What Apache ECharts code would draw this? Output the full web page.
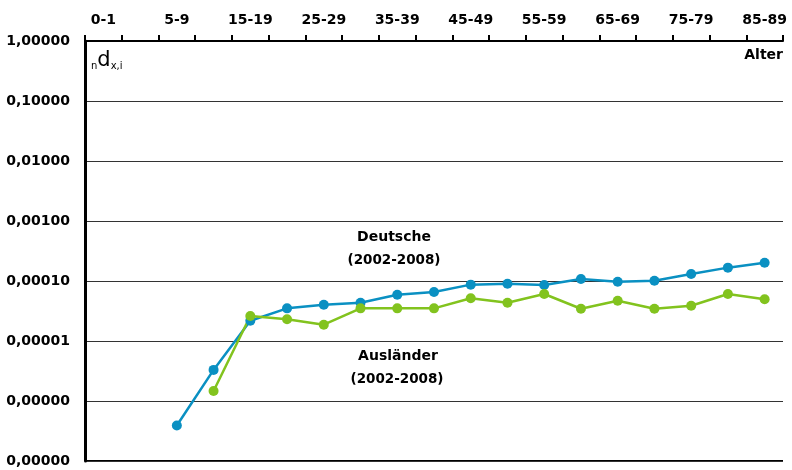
<!DOCTYPE html>
<html>
<head>
<meta charset="utf-8">
<script src="https://cdn.jsdelivr.net/npm/echarts@6/dist/echarts.min.js"></script>
<style>html,body{margin:0;padding:0;background:#fff}#c{width:792px;height:470px}</style>
</head>
<body>
<div id="c"></div>
<script>
var categories = ['0-1','1-4','5-9','10-14','15-19','20-24','25-29','30-34','35-39','40-44','45-49','50-54','55-59','60-64','65-69','70-74','75-79','80-84','85-89'];
var deutsche = [null, null, 3.9e-7, 3.3e-6, 2.18e-5, 3.5e-5, 4.03e-5, 4.35e-5, 5.9e-5, 6.56e-5, 8.7e-5, 9.0e-5, 8.6e-5, 1.08e-4, 9.7e-5, 1.01e-4, 1.31e-4, 1.67e-4, 2.02e-4];
var auslaender = [null, null, null, 1.47e-6, 2.61e-5, 2.3e-5, 1.87e-5, 3.5e-5, 3.5e-5, 3.5e-5, 5.15e-5, 4.35e-5, 6.07e-5, 3.45e-5, 4.7e-5, 3.45e-5, 3.87e-5, 6.07e-5, 4.95e-5];

var FONT = 'DejaVu Sans';
var chart = echarts.init(document.getElementById('c'));
chart.setOption({
  animation: false,
  grid: {left: 85, right: 9, top: 41, bottom: 9},
  xAxis: {
    type: 'category',
    position: 'top',
    data: categories,
    boundaryGap: true,
    axisLine: {lineStyle: {color: '#000', width: 2}},
    axisTick: {show: true, interval: 0, length: 6, lineStyle: {color: '#000', width: 2}},
    axisLabel: {interval: 1, margin: 14, color: '#000', fontFamily: FONT, fontWeight: 'bold', fontSize: 14},
    splitLine: {show: false}
  },
  yAxis: {
    type: 'log',
    logBase: 10,
    min: 1e-7,
    max: 1,
    axisLine: {show: true, lineStyle: {color: '#000', width: 3}},
    axisTick: {show: false},
    axisLabel: {
      color: '#000', fontFamily: FONT, fontWeight: 'bold', fontSize: 14, margin: 15,
      formatter: function (v) { return v.toFixed(5).replace('.', ','); }
    },
    splitLine: {show: true, lineStyle: {color: '#333', width: 1}},
    minorTick: {show: false}
  },
  series: [
    {
      name: 'Deutsche', type: 'line', data: deutsche, connectNulls: false,
      symbol: 'circle', symbolSize: 10,
      lineStyle: {color: '#0a90c2', width: 2.5},
      itemStyle: {color: '#0a90c2'}
    },
    {
      name: 'Ausländer', type: 'line', data: auslaender, connectNulls: false,
      symbol: 'circle', symbolSize: 10,
      lineStyle: {color: '#82c31e', width: 2.5},
      itemStyle: {color: '#82c31e'}
    }
  ],
  graphic: [
    {type: 'line', z: 0, shape: {x1: 85, y1: 461, x2: 783, y2: 461}, style: {stroke: '#000', lineWidth: 2}},
    {type: 'text', left: 91, top: 50, style: {
      text: '{n|n}{d|d}{s|x,i}', rich: {
        n: {fontFamily: FONT, fontSize: 10, fill: '#000', padding: [12, 0, 0, 0]},
        d: {fontFamily: FONT, fontSize: 21, fill: '#000'},
        s: {fontFamily: FONT, fontSize: 10, fill: '#000', padding: [12, 0, 0, 0]}
      }}},
    {type: 'text', right: 9, top: 48, style: {text: 'Alter', fontFamily: FONT, fontWeight: 'bold', fontSize: 14, fill: '#000', textAlign: 'right'}},
    {type: 'text', x: 394, y: 237, style: {text: 'Deutsche', fontFamily: FONT, fontWeight: 'bold', fontSize: 14, fill: '#000', textAlign: 'center', textVerticalAlign: 'middle'}},
    {type: 'text', x: 394, y: 260, style: {text: '(2002-2008)', fontFamily: FONT, fontWeight: 'bold', fontSize: 13.5, fill: '#000', textAlign: 'center', textVerticalAlign: 'middle'}},
    {type: 'text', x: 398, y: 356, style: {text: 'Ausländer', fontFamily: FONT, fontWeight: 'bold', fontSize: 14, fill: '#000', textAlign: 'center', textVerticalAlign: 'middle'}},
    {type: 'text', x: 397, y: 379, style: {text: '(2002-2008)', fontFamily: FONT, fontWeight: 'bold', fontSize: 13.5, fill: '#000', textAlign: 'center', textVerticalAlign: 'middle'}}
  ]
});
</script>
</body>
</html>
